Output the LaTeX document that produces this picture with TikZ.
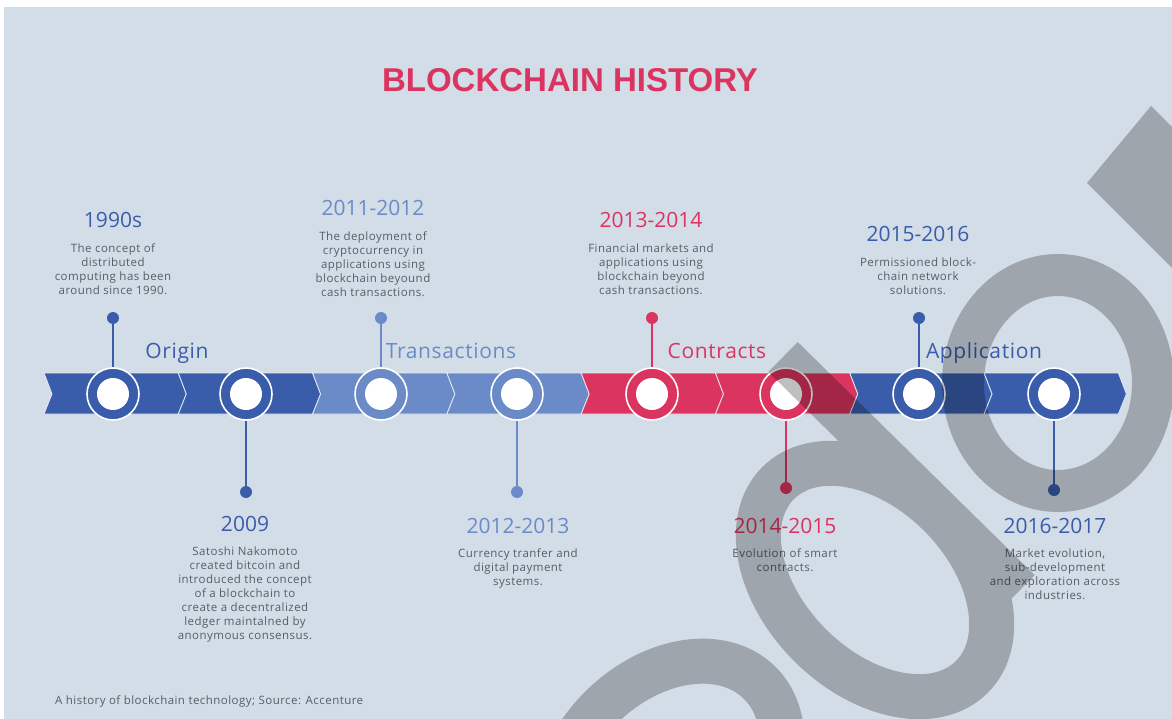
\documentclass[tikz,border=0pt]{standalone}
\usepackage{fontspec}
\setmainfont{Open Sans}
\newfontfamily\descfont[LetterSpace=4]{Open Sans}
\newfontfamily\stagefont[LetterSpace=3]{Open Sans}
\newfontfamily\titlefont{Liberation Sans}
\usetikzlibrary{positioning}

\definecolor{bgcol}{HTML}{D3DDE7}
\definecolor{dblue}{HTML}{3A5DAB}
\definecolor{lblue}{HTML}{6A8BC8}
\definecolor{rose}{HTML}{DC3460}
\definecolor{txtgray}{HTML}{585D65}

\begin{document}
\begin{tikzpicture}[x=1pt,y=-1pt,
	seg/.style={draw=bgcol!60!white, line width=0.8pt},
	ring/.style={circle, draw=white, line width=1.6pt, minimum size=52pt, inner sep=0pt},
	hole/.style={circle, fill=white, minimum size=32pt, inner sep=0pt},
	pin/.style={circle, minimum size=12pt, inner sep=0pt},
	stem/.style={line width=2pt},
	year/.style={anchor=base, inner sep=0pt, font=\fontsize{21}{21}\selectfont},
	desc/.style={inner sep=0pt, align=center, text=txtgray, font=\descfont\fontsize{11.5}{14}\selectfont},
	stage/.style={anchor=base, inner sep=0pt, font=\stagefont\fontsize{21}{21}\selectfont}]
	
	\useasboundingbox (0,0) rectangle (1172,719);
	\fill[white] (0,0) rectangle (1172,719);
	\fill[bgcol] (4,7) rectangle (1172,719);
	
	\node[anchor=base, text=rose, font=\titlefont\bfseries\fontsize{33}{33}\selectfont] (title) at (570,92) {BLOCKCHAIN HISTORY};
	
	% arrow band
	\filldraw[seg, fill=dblue] (44,373) -- ++(134.3,0) -- ++(8,21) -- ++(-8,20) -- ++(-134.3,0) -- ++(8,-20) -- cycle;
	\filldraw[seg, fill=dblue] (178.3,373) -- ++(134.3,0) -- ++(8,21) -- ++(-8,20) -- ++(-134.3,0) -- ++(8,-20) -- cycle;
	\filldraw[seg, fill=lblue] (312.6,373) -- ++(134.3,0) -- ++(8,21) -- ++(-8,20) -- ++(-134.3,0) -- ++(8,-20) -- cycle;
	\filldraw[seg, fill=lblue] (446.9,373) -- ++(134.3,0) -- ++(8,21) -- ++(-8,20) -- ++(-134.3,0) -- ++(8,-20) -- cycle;
	\filldraw[seg, fill=rose] (581.2,373) -- ++(134.3,0) -- ++(8,21) -- ++(-8,20) -- ++(-134.3,0) -- ++(8,-20) -- cycle;
	\filldraw[seg, fill=rose] (715.5,373) -- ++(134.3,0) -- ++(8,21) -- ++(-8,20) -- ++(-134.3,0) -- ++(8,-20) -- cycle;
	\filldraw[seg, fill=dblue] (849.8,373) -- ++(134.3,0) -- ++(8,21) -- ++(-8,20) -- ++(-134.3,0) -- ++(8,-20) -- cycle;
	\filldraw[seg, fill=dblue] (984.1,373) -- ++(134.3,0) -- ++(8,21) -- ++(-8,20) -- ++(-134.3,0) -- ++(8,-20) -- cycle;
	
	% stage names
	\node[stage, text=dblue] (origin) at (177,358) {Origin};
	\node[stage, text=lblue] (trans) at (451,358) {Transactions};
	\node[stage, text=rose] (contr) at (717,358) {Contracts};
	\node[stage, text=dblue] (appl) at (984,358) {Application};
	
	% milestones
	\node[ring, fill=dblue] (c1) at (113,394) {};
	\node[hole] (h1) at (c1) {};
	\node[pin, fill=dblue] (p1) at (113,318) {};
	\draw[stem, dblue] (p1) -- (c1);
	\node[year, text=dblue] (y1) at (113,228) {1990s};
	\node[desc, below=15pt of y1] (t1) {The concept of\\distributed\\computing has been\\around since 1990.};
	
	\node[ring, fill=dblue] (c2) at (246,394) {};
	\node[hole] (h2) at (c2) {};
	\node[pin, fill=dblue] (p2) at (246,492) {};
	\draw[stem, dblue] (c2) -- (p2);
	\node[year, text=dblue] (y2) at (245,531) {2009};
	\node[desc, below=15pt of y2] (t2) {Satoshi Nakomoto\\created bitcoin and\\introduced the concept\\of a blockchain to\\create a decentralized\\ledger maintalned by\\anonymous consensus.};
	
	\node[ring, fill=lblue] (c3) at (381,394) {};
	\node[hole] (h3) at (c3) {};
	\node[pin, fill=lblue] (p3) at (381,318) {};
	\draw[stem, lblue] (p3) -- (c3);
	\node[year, text=lblue] (y3) at (373,216) {2011-2012};
	\node[desc, below=15pt of y3] (t3) {The deployment of\\cryptocurrency in\\applications using\\blockchain beyound\\cash transactions.};
	
	\node[ring, fill=lblue] (c4) at (517,394) {};
	\node[hole] (h4) at (c4) {};
	\node[pin, fill=lblue] (p4) at (517,492) {};
	\draw[stem, lblue] (c4) -- (p4);
	\node[year, text=lblue] (y4) at (518,533) {2012-2013};
	\node[desc, below=15pt of y4] (t4) {Currency tranfer and\\digital payment\\systems.};
	
	\node[ring, fill=rose] (c5) at (652,394) {};
	\node[hole] (h5) at (c5) {};
	\node[pin, fill=rose] (p5) at (652,318) {};
	\draw[stem, rose] (p5) -- (c5);
	\node[year, text=rose] (y5) at (651,228) {2013-2014};
	\node[desc, below=15pt of y5] (t5) {Financial markets and\\applications using\\blockchain beyond\\cash transactions.};
	
	\node[ring, fill=rose] (c6) at (786,394) {};
	\node[hole] (h6) at (c6) {};
	\node[pin, fill=rose] (p6) at (786,488) {};
	\draw[stem, rose] (c6) -- (p6);
	\node[year, text=rose] (y6) at (785,533) {2014-2015};
	\node[desc, below=15pt of y6] (t6) {Evolution of smart\\contracts.};
	
	\node[ring, fill=dblue] (c7) at (919,394) {};
	\node[hole] (h7) at (c7) {};
	\node[pin, fill=dblue] (p7) at (919,318) {};
	\draw[stem, dblue] (p7) -- (c7);
	\node[year, text=dblue] (y7) at (918,242) {2015-2016};
	\node[desc, below=15pt of y7] (t7) {Permissioned block-\\chain network\\solutions.};
	
	\node[ring, fill=dblue] (c8) at (1054,394) {};
	\node[hole] (h8) at (c8) {};
	\node[pin, fill=dblue] (p8) at (1054,490) {};
	\draw[stem, dblue] (c8) -- (p8);
	\node[year, text=dblue] (y8) at (1055,533) {2016-2017};
	\node[desc, below=15pt of y8] (t8) {Market evolution,\\sub-development\\and exploration across\\industries.};
	
	\node[anchor=base west, inner sep=0pt, text=txtgray, font=\descfont\fontsize{11.5}{12}\selectfont] (src) at (55,704) {A history of blockchain technology; Source: Accenture};
	
	% watermark
	\begin{scope}[transparency group, opacity=0.25]
		\clip (4,7) rectangle (1172,719);
		\draw[line width=45pt, rotate around={45:(668,775)}] (668,775) ellipse [x radius=130, y radius=95];
		\draw[line width=45pt, rotate around={-45:(875,580)}] (875,580) ellipse [x radius=137, y radius=92];
		\draw[line width=42pt] (783,357) -- (1020,590);
		\draw[line width=42pt] (1058,383) ellipse [x radius=95, y radius=108];
		\fill (1087,183) -- (1151,106) -- (1250,205) -- (1186,282) -- cycle;
	\end{scope}
	
\end{tikzpicture}
\end{document}
